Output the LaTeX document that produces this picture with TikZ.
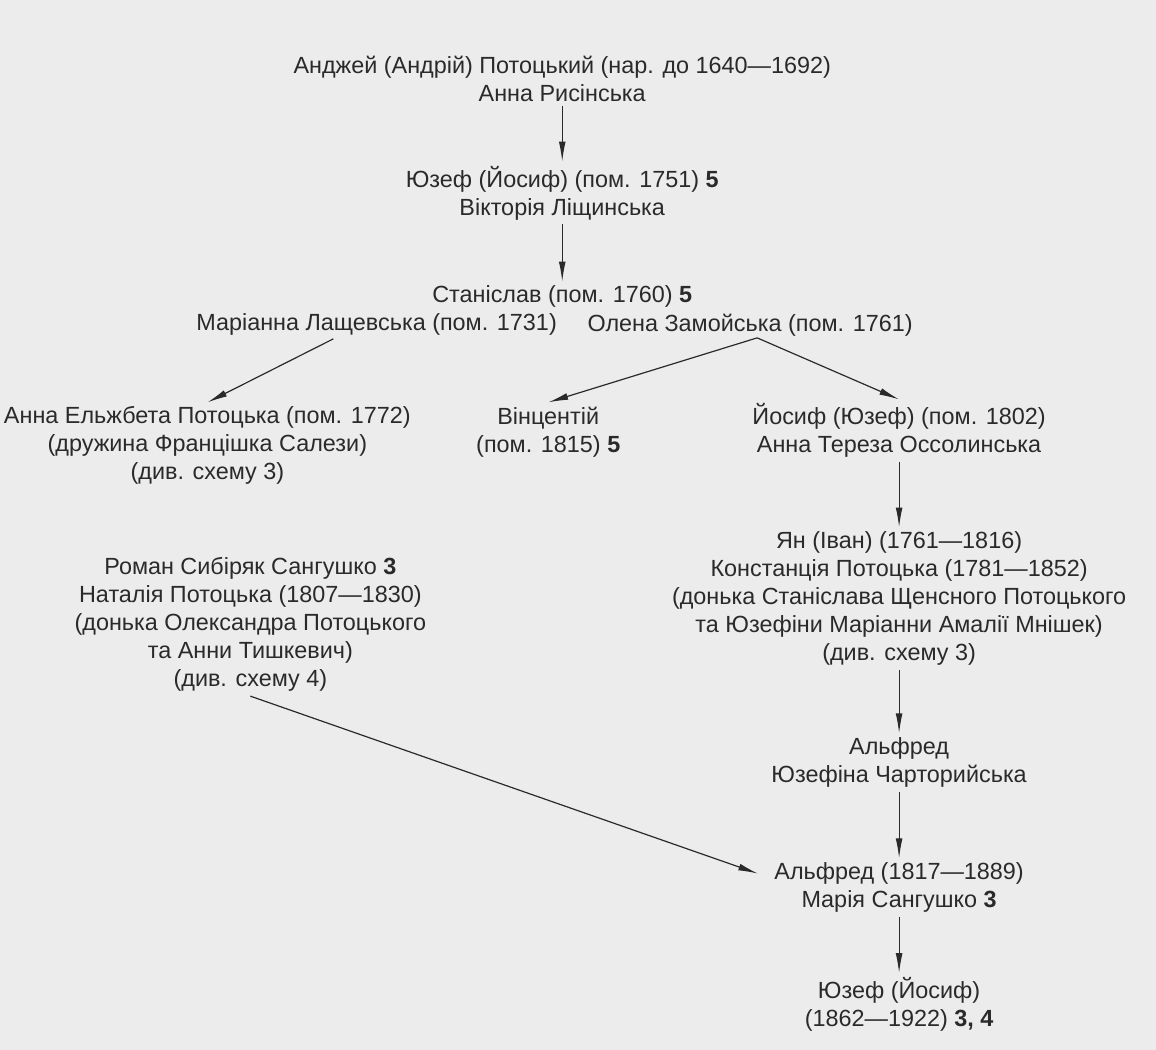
\documentclass[tikz,border=0pt]{standalone}
\usepackage{fontspec}
\setmainfont{Liberation Sans}
\usetikzlibrary{arrows.meta}
\definecolor{ink}{HTML}{2A2A2A}
\definecolor{paper}{HTML}{ECECEC}
\begin{document}
\begin{tikzpicture}[>={Latex[length=10pt,width=3.4pt]},x=0.5pt,y=-0.5pt,
        font=\fontsize{11.7}{14}\selectfont,
        person/.style={align=center,inner sep=2pt,text=ink},
        link/.style={->,draw=ink,line width=0.6pt}]
            \fill[paper] (0,0) rectangle (1156,1050);
            \node[person] (andrzej) at (562,79) {Анджей (Андрій) Потоцький (нар. до 1640—1692)\\Анна Рисінська};
            \node[person] (jozef) at (562,193) {Юзеф (Йосиф) (пом. 1751) \textbf{5}\\Вікторія Ліщинська};
            \node[person] (stanislav) at (562,297) {Станіслав (пом. 1760) \textbf{5}};
            \node[person,anchor=east] (lashch) at (561,325) {Маріанна Лащевська (пом. 1731)};
            \node[person,anchor=west] (zamoy) at (583,325) {Олена Замойська (пом. 1761)};
            \coordinate (lashchfoot) at (333,339);
            \coordinate (zamoyfoot) at (757,338);
            \node[person] (annael) at (207,446) {Анна Ельжбета Потоцька (пом. 1772)\\(дружина Францішка Салези)\\(див. схему 3)};
            \node[person] (vincent) at (548,432) {Вінцентій\\(пом. 1815) \textbf{5}};
            \node[person] (yosyf) at (899,431) {Йосиф (Юзеф) (пом. 1802)\\Анна Тереза Оссолинська};
            \node[person] (yan) at (899,599) {Ян (Іван) (1761—1816)\\Констанція Потоцька (1781—1852)\\(донька Станіслава Щенсного Потоцького\\та Юзефіни Маріанни Амалії Мнішек)\\(див. схему 3)};
            \node[person] (roman) at (250,625) {Роман Сибіряк Сангушко \textbf{3}\\Наталія Потоцька (1807—1830)\\(донька Олександра Потоцького\\та Анни Тишкевич)\\(див. схему 4)};
            \node[person] (alfred) at (899,763) {Альфред\\Юзефіна Чарторийська};
            \node[person] (alfredb) at (899,888) {Альфред (1817—1889)\\Марія Сангушко \textbf{3}};
            \node[person] (jozefb) at (899,1005) {Юзеф (Йосиф)\\(1862—1922) \textbf{3, 4}};
            \coordinate (alfbend) at (758,874);
            \foreach \a/\b in {andrzej/jozef,jozef/stanislav,yosyf/yan,yan/alfred,alfred/alfredb,alfredb/jozefb}
            \draw[link] (\a.south) -- (\b.north);
            \draw[link] (lashchfoot) -- (annael.north);
            \draw[link] (zamoyfoot) -- (vincent.north);
            \draw[link] (zamoyfoot) -- (yosyf.north);
            \draw[link] (roman.south) -- (alfbend);
        \end{tikzpicture}
\end{document}
